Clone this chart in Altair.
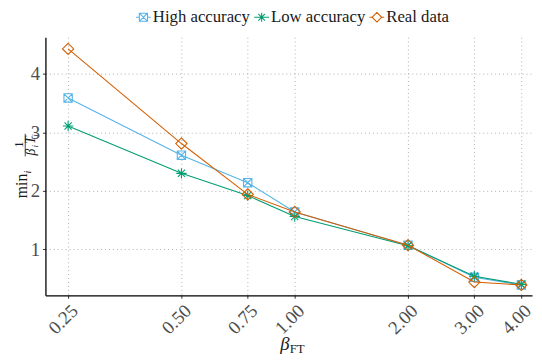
import altair as alt
import pandas as pd

beta_ft = [0.25, 0.5, 0.75, 1.0, 2.0, 3.0, 4.0]
high_acc = [3.59, 2.61, 2.14, 1.64, 1.07, 0.52, 0.39]
low_acc = [3.11, 2.30, 1.92, 1.56, 1.06, 0.54, 0.40]
real_data = [4.43, 2.81, 1.94, 1.64, 1.07, 0.44, 0.39]

series_names = ["High accuracy", "Low accuracy", "Real data"]
series_colors = ["#56B4E9", "#009E73", "#D55E00"]
x_ticks = [0.25, 0.5, 0.75, 1.0, 2.0, 3.0, 4.0]
y_ticks = [1, 2, 3, 4]

rows = []
for name, vals in zip(series_names, [high_acc, low_acc, real_data]):
    for xv, yv in zip(beta_ft, vals):
        rows.append({"beta": xv, "value": yv, "series": name})
df = pd.DataFrame(rows)

FONT = "Liberation Serif"
W, H = 494, 262

point_paths = {
    "High accuracy": "M-1,-1H1V1H-1ZM-1,-1L1,1M-1,1L1,-1",
    "Low accuracy": "M-1,0H1M0,-1V1M-0.7,-0.7L0.7,0.7M-0.7,0.7L0.7,-0.7",
    "Real data": "M0,-1L1,0L0,1L-1,0Z",
}
point_sizes = {"High accuracy": 72, "Low accuracy": 110, "Real data": 130}

legend_paths = {
    "High accuracy": "M-1,0H-0.55M0.55,0H1M-0.55,-0.55H0.55V0.55H-0.55ZM-0.55,-0.55L0.55,0.55M-0.55,0.55L0.55,-0.55",
    "Low accuracy": "M-1,0H1M0,-0.6V0.6M-0.45,-0.45L0.45,0.45M-0.45,0.45L0.45,-0.45",
    "Real data": "M-1,0H-0.65M0.65,0H1M0,-0.65L0.65,0L0,0.65L-0.65,0Z",
}
shape_expr = (
    f"datum.value === 'High accuracy' ? '{legend_paths['High accuracy']}' : "
    f"datum.value === 'Low accuracy' ? '{legend_paths['Low accuracy']}' : "
    f"'{legend_paths['Real data']}'"
)

xscale = alt.Scale(type="log", base=2, domain=[0.2176, 4.27], nice=False)
yscale = alt.Scale(domain=[0.213, 4.63], nice=False, zero=False)
cscale = alt.Scale(domain=series_names, range=series_colors)

xenc = alt.X("beta:Q", scale=xscale,
             axis=alt.Axis(values=x_ticks, format=".2f", title=None, labelAngle=-45,
                           grid=True, labelFlush=False, labelOverlap=False,
                           labelFontSize=19, labelFont=FONT))
yenc = alt.Y("value:Q", scale=yscale,
             axis=alt.Axis(values=y_ticks, format="d", title=None, grid=True,
                           labelFontSize=19, labelFont=FONT))

leg = alt.Legend(
    title=None, orient="none", legendX=91, legendY=-29, direction="horizontal",
    symbolType=alt.ExprRef(expr=shape_expr),
    symbolSize=225, symbolStrokeWidth=1.1, symbolFillColor="transparent",
    labelFont=FONT, labelFontSize=17, labelColor="#1a1a1a",
    columnPadding=1, labelOffset=1,
)

base = alt.Chart(df)
layers = []
for i, name in enumerate(series_names):
    sub = base.transform_filter(alt.datum.series == name)
    layers.append(sub.mark_line(strokeWidth=1.1).encode(
        x=xenc, y=yenc, color=alt.Color("series:N", scale=cscale, legend=leg)))
    layers.append(sub.mark_point(strokeWidth=1.1, filled=False, opacity=1,
                                 shape=point_paths[name], size=point_sizes[name]).encode(
        x=xenc, y=yenc, color=alt.Color("series:N", scale=cscale)))

def txt(s, x, y, size, angle=0, align="center", baseline="alphabetic", style="normal"):
    return alt.Chart(pd.DataFrame({"t": [s]})).mark_text(
        text=s, font=FONT, fontSize=size, angle=angle, align=align, baseline=baseline,
        fontStyle=style, color="#1a1a1a").encode(x=alt.value(x), y=alt.value(y))

titles = [
    txt("min", -19, 151, 16, angle=270),
    txt("i", -15, 137, 10, angle=270, style="italic"),
    txt("1", -23, 109, 13, angle=270),
    txt("β", -11, 120, 14, angle=270, align="left", style="italic"),
    txt("i", -8, 112, 9, angle=270, align="left", style="italic"),
    txt("T", -11, 108.5, 14, angle=270, align="left", style="italic"),
    txt("i", -8, 101, 9, angle=270, align="left", style="italic"),
    alt.Chart(pd.DataFrame({"t": [0]})).mark_rule(color="#1a1a1a", strokeWidth=0.8).encode(
        x=alt.value(-20.5), y=alt.value(98), y2=alt.value(121)),
    txt("β", 243, 318, 19, style="italic"),
    txt("FT", 248, 321, 13, align="left"),
]

chart = alt.layer(*layers, *titles).properties(
    width=W, height=H,
    autosize=alt.AutoSizeParams(type="none"),
    padding={"left": 38, "top": 27, "right": 2, "bottom": 59},
).configure_view(stroke=None).configure_axis(
    labelColor="#4D4D4D",
    domainColor="#000000", domainWidth=1.3,
    tickColor="#333333", tickSize=3, tickWidth=1,
    gridColor="#b0b0b0", gridDash=[1, 3], gridWidth=1,
    labelPadding=3,
).configure_legend(
    labelFont=FONT, labelFontSize=17, labelColor="#1a1a1a",
)

chart.save("out.html", embed_options={"renderer": "svg", "actions": False})
